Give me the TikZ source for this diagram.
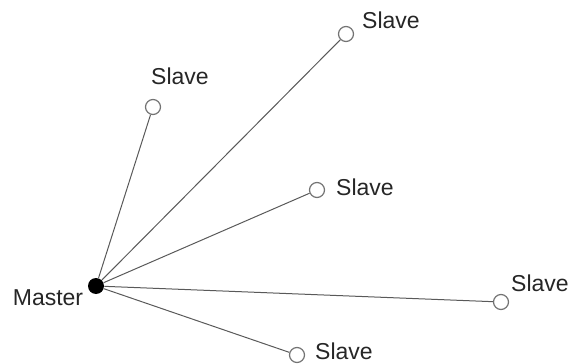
\documentclass[tikz,border=0pt]{standalone}
\usepackage{fontspec}
\setmainfont{Liberation Sans}
\usetikzlibrary{positioning,backgrounds}
\tikzset{
  net/master/.style={circle, fill=black, inner sep=0pt, minimum size=8pt},
  net/slave/.style={circle, draw=black!55, line width=0.6pt, fill=white, inner sep=0pt, minimum size=7.5pt},
  net/text/.style={font=\fontsize{11.5}{13}\selectfont, inner sep=0pt, text=black!85},
  net/line/.style={draw=black!65, line width=0.5pt}
}
\begin{document}
\begin{tikzpicture}[x=0.5pt, y=-0.5pt]
  \useasboundingbox (0,0) rectangle (569,364);

  % master and slaves
  \node[net/master] (master) at (96,286) {};
  \node[net/slave] (slaveA) at (153,107) {};
  \node[net/slave] (slaveB) at (346,34) {};
  \node[net/slave] (slaveC) at (317,190) {};
  \node[net/slave] (slaveD) at (501,302) {};
  \node[net/slave] (slaveE) at (297,355) {};

  % labels
  \node[net/text] (masterlbl) at (48,298) {Master};
  \node[net/text] (slaveAlbl) at (180,76) {Slave};
  \node[net/text] (slaveBlbl) at (391,20) {Slave};
  \node[net/text] (slaveClbl) at (365,187) {Slave};
  \node[net/text] (slaveDlbl) at (540,283) {Slave};
  \node[net/text] (slaveElbl) at (344,351) {Slave};

  % links
  \begin{scope}[on background layer]
    \foreach \s in {slaveA,slaveB,slaveC,slaveD,slaveE}
      \draw[net/line] (master) -- (\s);
  \end{scope}
\end{tikzpicture}
\end{document}
